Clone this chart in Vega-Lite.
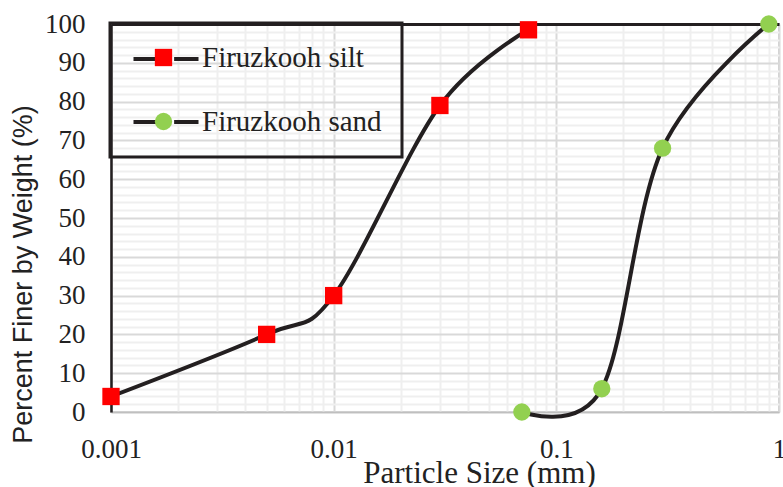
{
  "$schema": "https://vega.github.io/schema/vega-lite/v6.json",
  "width": 668,
  "height": 388,
  "autosize": {"type": "none"},
  "padding": {"left": 111, "top": 24, "right": 4, "bottom": 75},
  "background": "white",
  "config": {
    "view": {"stroke": "#bfbfbf", "strokeWidth": 1.5},
    "axis": {"labelFont": "Liberation Serif", "labelFontSize": 27, "labelColor": "#222222", "ticks": false, "tickSize": 0},
    "legend": {"strokeWidth": 3}
  },
  "data": {
    "values": [
      {"series": "Firuzkooh silt", "size": 0.001, "pct": 4},
      {"series": "Firuzkooh silt", "size": 0.005, "pct": 20},
      {"series": "Firuzkooh silt", "size": 0.01, "pct": 30},
      {"series": "Firuzkooh silt", "size": 0.03, "pct": 79},
      {"series": "Firuzkooh silt", "size": 0.075, "pct": 98.5},
      {"series": "Firuzkooh sand", "size": 0.07, "pct": 0},
      {"series": "Firuzkooh sand", "size": 0.16, "pct": 6},
      {"series": "Firuzkooh sand", "size": 0.3, "pct": 68},
      {"series": "Firuzkooh sand", "size": 0.9, "pct": 100}
    ]
  },
  "layer": [
    {
      "mark": {"type": "line", "interpolate": "cardinal", "tension": 0, "strokeWidth": 4, "strokeCap": "round"},
      "encoding": {
        "x": {
          "field": "size", "type": "quantitative",
          "scale": {"type": "log", "domain": [0.001, 1], "nice": false},
          "axis": {
            "orient": "bottom",
            "values": [0.001, 0.002, 0.003, 0.004, 0.005, 0.006, 0.007, 0.008, 0.009, 0.01, 0.02, 0.03, 0.04, 0.05, 0.06, 0.07, 0.08, 0.09, 0.1, 0.2, 0.3, 0.4, 0.5, 0.6, 0.7, 0.8, 0.9, 1],
            "labelExpr": "datum.value == 0.001 ? '0.001' : datum.value == 0.01 ? '0.01' : datum.value == 0.1 ? '0.1' : datum.value == 1 ? '1' : ''",
            "labelOverlap": false, "labelFlush": false, "labelBound": false,
            "labelPadding": 24,
            "grid": true,
            "gridColor": {"condition": {"test": "datum.value == 0.001 || datum.value == 0.01 || datum.value == 0.1 || datum.value == 1", "value": "#d9d9d9"}, "value": "#efefef"},
            "gridWidth": 2,
            "domainColor": "#bfbfbf", "domainWidth": 1.5,
            "title": "Particle Size (mm)",
            "titleFont": "Liberation Serif", "titleFontSize": 31, "titleFontWeight": "normal", "titleColor": "#222222",
            "titleX": 368, "titleY": 70, "titleBaseline": "alphabetic", "titleAlign": "center"
          }
        },
        "y": {
          "field": "pct", "type": "quantitative",
          "scale": {"domain": [0, 100], "nice": false},
          "axis": {
            "orient": "left",
            "values": [0, 2, 4, 6, 8, 10, 12, 14, 16, 18, 20, 22, 24, 26, 28, 30, 32, 34, 36, 38, 40, 42, 44, 46, 48, 50, 52, 54, 56, 58, 60, 62, 64, 66, 68, 70, 72, 74, 76, 78, 80, 82, 84, 86, 88, 90, 92, 94, 96, 98, 100],
            "labelExpr": "datum.value % 10 == 0 ? datum.label : ''",
            "labelOverlap": false, "labelFlush": false, "labelBound": false,
            "labelPadding": 26, "labelBaseline": "middle",
            "grid": true,
            "gridColor": {"condition": {"test": "datum.value % 10 == 0", "value": "#d9d9d9"}, "value": "#efefef"},
            "gridWidth": 2,
            "domainColor": "#231f20", "domainWidth": 2.5,
            "title": "Percent Finer by Weight (%)",
            "titleFont": "Liberation Sans", "titleFontSize": 27, "titleFontWeight": "normal", "titleColor": "#222222",
            "titleX": -88, "titleY": 250, "titleAngle": 270, "titleBaseline": "middle", "titleAlign": "center"
          }
        },
        "stroke": {
          "field": "series", "type": "nominal",
          "scale": {"domain": ["Firuzkooh sand", "Firuzkooh silt"], "range": ["#231f20", "#231f20"]},
          "legend": {
            "orient": "none", "legendX": -1, "legendY": 0.5, "direction": "vertical",
            "title": null, "padding": 0,
            "symbolType": "M-1,0H-0.25M0.25,0H1",
            "symbolSize": 4225, "symbolStrokeWidth": 4, "symbolStrokeColor": "#231f20", "symbolOffset": 21.5,
            "labelFont": "Liberation Serif", "labelFontSize": 29, "labelExpr": "''", "labelLimit": 400,
            "labelOffset": 6, "rowPadding": 13
          }
        }
      }
    },
    {
      "mark": {"type": "point", "filled": true, "size": 300, "opacity": 1, "strokeWidth": 0},
      "encoding": {
        "x": {
          "field": "size", "type": "quantitative",
          "axis": {"orient": "top", "labels": false, "ticks": false, "grid": false, "domainColor": "#231f20", "domainWidth": 3, "title": null}
        },
        "y": {"field": "pct", "type": "quantitative", "axis": null},
        "fill": {
          "field": "series", "type": "nominal",
          "scale": {"domain": ["Firuzkooh silt", "Firuzkooh sand"], "range": ["#ff0000", "#92d050"]},
          "legend": {
            "orient": "none", "legendX": -1, "legendY": -1, "direction": "vertical",
            "title": null, "padding": 20,
            "strokeColor": "#231f20",
            "symbolSize": 300, "symbolStrokeWidth": 0, "symbolOffset": 19,
            "labelFont": "Liberation Serif", "labelFontSize": 29, "labelColor": "#222222", "labelLimit": 400,
            "labelOffset": 24, "rowPadding": 34
          }
        },
        "shape": {
          "field": "series", "type": "nominal",
          "scale": {"domain": ["Firuzkooh silt", "Firuzkooh sand"], "range": ["square", "circle"]},
          "legend": {
            "orient": "none", "legendX": -1, "legendY": -1, "direction": "vertical",
            "title": null, "padding": 20,
            "strokeColor": "#231f20",
            "symbolSize": 300, "symbolStrokeWidth": 0, "symbolOffset": 19,
            "labelFont": "Liberation Serif", "labelFontSize": 29, "labelColor": "#222222", "labelLimit": 400,
            "labelOffset": 24, "rowPadding": 34
          }
        }
      }
    }
  ],
  "resolve": {"axis": {"x": "independent", "y": "independent"}}
}
